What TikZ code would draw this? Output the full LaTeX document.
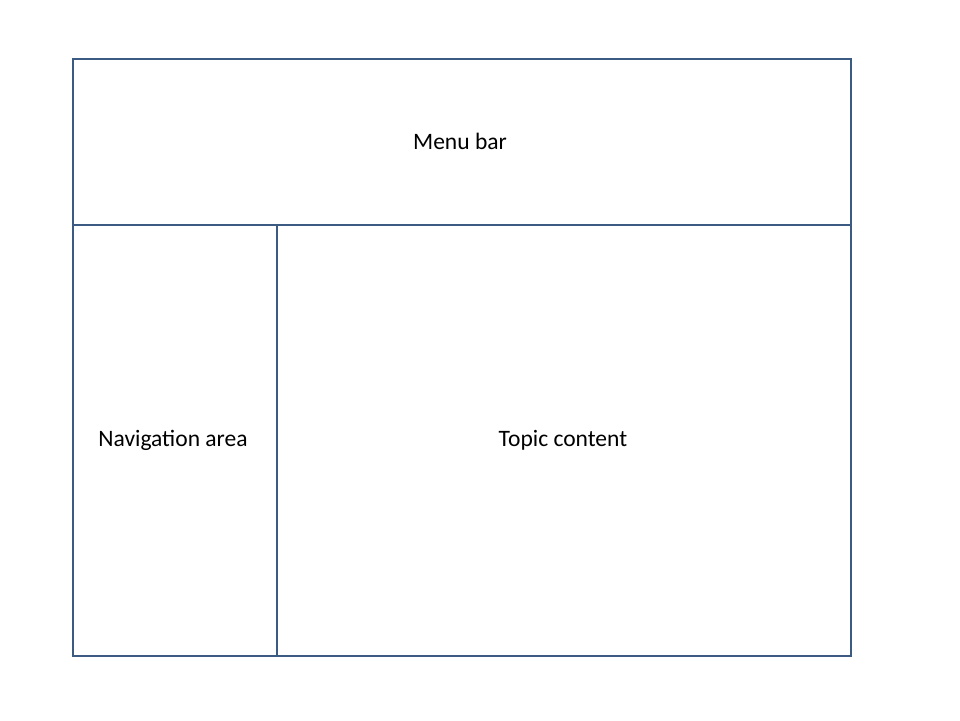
\documentclass[tikz,border=0pt]{standalone}
\usepackage{fontspec}
\setmainfont{Carlito}
\usetikzlibrary{positioning}
\definecolor{framecol}{HTML}{3B5B82}
\tikzset{area/.style={draw=framecol, line width=1.3pt, inner sep=0pt, font=\fontsize{13.4}{16}\selectfont}}

\begin{document}
\begin{tikzpicture}[x=0.02cm, y=-0.02cm]
    \useasboundingbox (0,0) rectangle (960,720);
    \node[area, minimum width=778*0.02cm, minimum height=166*0.02cm, anchor=north west] (menu) at (72,58) {};
    \node[area, minimum width=204*0.02cm, minimum height=431*0.02cm, anchor=north west] (nav) at (72,224) {};
    \node[area, minimum width=574*0.02cm, minimum height=431*0.02cm, anchor=north west] (topic) at (276,224) {};
    \node[font=\fontsize{13.4}{16}\selectfont] (menu_t) at (460,141) {Menu bar};
    \node[font=\fontsize{13.4}{16}\selectfont] (nav_t) at (173,440) {Navigation area};
    \node[font=\fontsize{13.4}{16}\selectfont] (topic_t) at (563,440) {Topic content};
\end{tikzpicture}
\end{document}
